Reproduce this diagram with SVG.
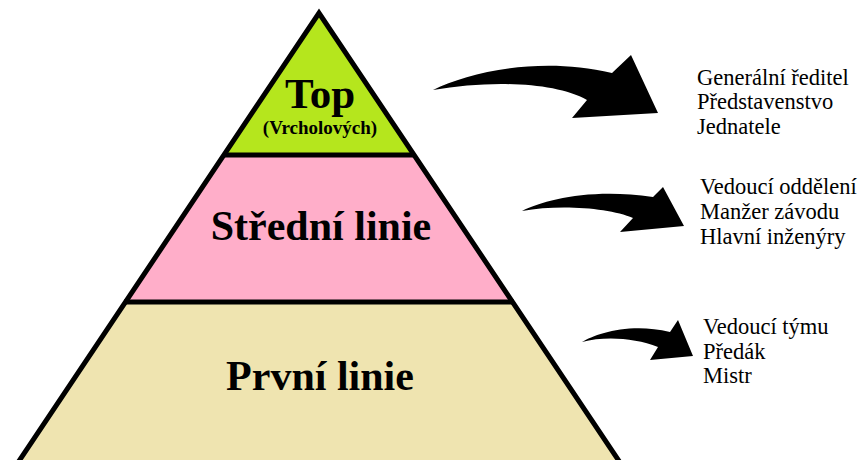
<svg xmlns="http://www.w3.org/2000/svg" width="865" height="460" viewBox="0 0 865 460">
<style>
.edge{fill:none;stroke:#000;stroke-width:5;stroke-linejoin:miter}
.tier{font-family:'Times New Roman','Liberation Serif',serif;font-weight:bold;fill:#000;text-anchor:middle}
.lbl{font-family:'Times New Roman','Liberation Serif',serif;font-size:22.5px;fill:#000}
.arrow{fill:#000;stroke:none}
</style>
<rect width="865" height="460" fill="#fff"/>
<g id="tier-top">
<polygon points="319,13 223,155 415,155" fill="#b5e61d"/>
<text class="tier" x="320" y="108" font-size="43">Top</text>
<text class="tier" x="320" y="134" font-size="19">(Vrcholových)</text>
</g>
<g id="tier-middle">
<polygon points="223,155 415,155 514,302 124,302" fill="#ffaec9"/>
<text class="tier" x="321" y="240" font-size="42">Střední linie</text>
</g>
<g id="tier-bottom">
<polygon points="124,302 514,302 622,465 16,465" fill="#efe4b0"/>
<text class="tier" x="320" y="390" font-size="42">První linie</text>
</g>
<g id="outline">
<path class="edge" d="M15,467 L319,13 L623,467"/>
<line class="edge" x1="223" y1="155" x2="415" y2="155"/>
<line class="edge" x1="124" y1="302" x2="514" y2="302"/>
</g>
<g id="connectors">
<path class="arrow" d="M433,90 C470,72 540,56 612,73 L631,55 L658,113 L572,118 L587,100 C555,82 490,80 433,90 Z"/>
<path class="arrow" d="M522,211 C545,200 590,188 653,197 L663,187 L684,226 L620,232 L633,218 C610,208 560,204 522,211 Z"/>
<path class="arrow" d="M582,342 C595,334 630,322 670,332 L678,320 L693,356 L650,360 L658,347 C635,338 605,336 582,342 Z"/>
</g>
<g id="labels-top">
<text class="lbl" x="697" y="85">Generální ředitel</text>
<text class="lbl" x="697" y="109">Představenstvo</text>
<text class="lbl" x="697" y="134">Jednatele</text>
</g>
<g id="labels-middle">
<text class="lbl" x="700" y="194">Vedoucí oddělení</text>
<text class="lbl" x="700" y="219">Manžer závodu</text>
<text class="lbl" x="700" y="244">Hlavní inženýry</text>
</g>
<g id="labels-bottom">
<text class="lbl" x="703" y="334">Vedoucí týmu</text>
<text class="lbl" x="703" y="359">Předák</text>
<text class="lbl" x="703" y="383">Mistr</text>
</g>
</svg>
